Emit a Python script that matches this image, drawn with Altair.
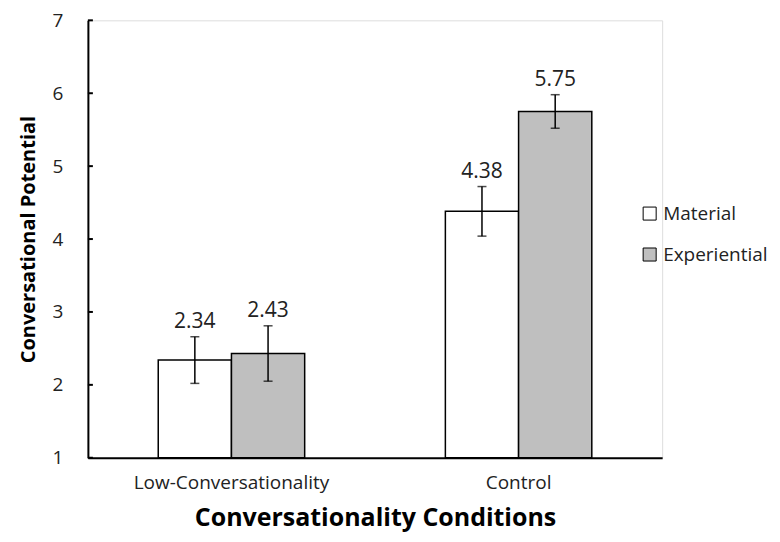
import altair as alt
import pandas as pd

conditions = ["Low-Conversationality", "Low-Conversationality", "Control", "Control"]
types = ["Material", "Experiential", "Material", "Experiential"]
means = [2.34, 2.43, 4.38, 5.75]
errors = [0.32, 0.38, 0.34, 0.23]
y_ticks = [1, 2, 3, 4, 5, 6, 7]

cat_order = ["Low-Conversationality", "Control"]
type_order = ["Material", "Experiential"]
colors = ["#ffffff", "#bfbfbf"]

df = pd.DataFrame({
    "cond": conditions,
    "type": types,
    "mean": means,
    "lo": [m - e for m, e in zip(means, errors)],
    "hi": [m + e for m, e in zip(means, errors)],
    "base": [1] * len(means),
    "label": [f"{m:.2f}" for m in means],
})
ticks_df = pd.DataFrame({"v": y_ticks})

FONT = "Open Sans"

x = alt.X("cond:N", sort=cat_order,
          scale=alt.Scale(paddingInner=0.49, paddingOuter=0.245),
          axis=alt.Axis(title="Conversationality Conditions", labelAngle=0,
                        labelFontSize=19, labelColor="#222", labelPadding=16,
                        labelLimit=400, ticks=False, domainColor="black", domainWidth=2,
                        titleFontSize=25, titleFontWeight="bold", titlePadding=13,
                        titleColor="black", labelFont=FONT, titleFont=FONT))
y_scale = alt.Scale(domain=[1, 7], zero=False, nice=False)
xo = alt.XOffset("type:N", sort=type_order)

bars = alt.Chart(df).mark_bar(stroke="black", strokeWidth=1.5).encode(
    x=x,
    xOffset=xo,
    y=alt.Y("mean:Q", scale=y_scale,
            axis=alt.Axis(title="Conversational Potential", values=y_ticks,
                          format="d", grid=False, ticks=False, labelFontSize=19,
                          labelColor="#222", labelPadding=25, domainColor="black",
                          domainWidth=2, titleFontSize=20, titleFontWeight="bold",
                          titlePadding=14, titleColor="black", labelFont=FONT,
                          titleFont=FONT)),
    y2="base:Q",
    fill=alt.Fill("type:N", sort=type_order,
                  scale=alt.Scale(domain=type_order, range=colors),
                  legend=alt.Legend(title=None, orient="none", legendX=553, legendY=184,
                                    symbolType="square", symbolSize=170,
                                    symbolStrokeColor="black", symbolStrokeWidth=1,
                                    labelFontSize=19, labelFont=FONT, labelColor="#222",
                                    rowPadding=21, labelOffset=4)),
)

rules = alt.Chart(df).mark_rule(color="black", strokeWidth=1.5).encode(
    x=alt.X("cond:N", sort=cat_order), xOffset=xo,
    y=alt.Y("lo:Q", scale=y_scale), y2="hi:Q")

caps_hi = alt.Chart(df).mark_tick(color="black", thickness=1.5, size=9).encode(
    x=alt.X("cond:N", sort=cat_order), xOffset=xo, y=alt.Y("hi:Q", scale=y_scale))
caps_lo = alt.Chart(df).mark_tick(color="black", thickness=1.5, size=9).encode(
    x=alt.X("cond:N", sort=cat_order), xOffset=xo, y=alt.Y("lo:Q", scale=y_scale))

labels = alt.Chart(df).mark_text(baseline="bottom", dy=-5, fontSize=21, font=FONT,
                                 color="#222").encode(
    x=alt.X("cond:N", sort=cat_order), xOffset=xo,
    y=alt.Y("hi:Q", scale=y_scale), text="label:N")

yticks = alt.Chart(ticks_df).mark_rule(color="black", strokeWidth=2).encode(
    y=alt.Y("v:Q", scale=y_scale), x=alt.value(0), x2=alt.value(5))

chart = alt.layer(bars, rules, caps_hi, caps_lo, labels, yticks).properties(
    width=575, height=438,
    autosize=alt.AutoSizeParams(type="none"),
    padding={"left": 80, "top": 12, "right": 110, "bottom": 76},
).configure_view(stroke=None).configure(background="white")

chart.save("out.html", embed_options={"renderer": "svg", "actions": False})
